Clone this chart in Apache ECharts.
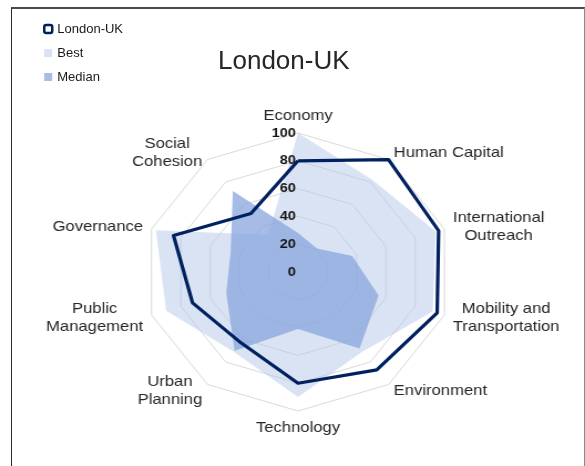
<!DOCTYPE html>
<html>
<head>
<meta charset="utf-8">
<title>London-UK</title>
<script src="https://cdn.jsdelivr.net/npm/echarts@6/dist/echarts.min.js"></script>
<style>
  html, body { margin: 0; padding: 0; background: #fff; }
  #wrap { position: relative; width: 585px; height: 466px; overflow: hidden; }
  #frame {
    position: absolute; left: 11px; top: 7px; width: 574px; height: 520px;
    box-sizing: border-box; border: 1px solid #2b2b2b; border-top: 2px solid #4a4a4a; border-right-color: #8a8a8a;
  }
  /* the radar in the reference is wider than tall, so the radar layer is stretched */
  #radarChart { position: absolute; left: 0; top: 0; width: 528px; height: 466px; transform: scaleX(1.108); transform-origin: 0 0; }
  #headChart { position: absolute; left: 0; top: 0; width: 585px; height: 466px; }
</style>
</head>
<body>
<div id="wrap">
  <div id="frame"></div>
  <div id="headChart"></div>
  <div id="radarChart"></div>
</div>
<script>
const FONT = '"Liberation Sans", Arial, sans-serif';
const SX = 1.108;

// clockwise from the top
const categories = ['Economy', 'Human Capital', 'International\nOutreach', 'Mobility and\nTransportation', 'Environment',
  'Technology', 'Urban\nPlanning', 'Public\nManagement', 'Governance', 'Social\nCohesion'];
const londonValues = [80, 100, 96, 95, 87, 80, 63, 72, 85, 52];
const bestValues = [100, 82, 94, 92, 71, 90, 71, 90, 97, 33];
const medianValues = [28, 21, 37, 55, 68, 41, 70, 49, 46, 72];
const ticks = [0, 20, 40, 60, 80, 100];
const seriesNames = ['London-UK', 'Best', 'Median'];

// echarts lays the indicators out counter-clockwise
const order = categories.map((_, i) => (categories.length - i) % categories.length);
const pick = (arr) => order.map((i) => arr[i]);

const indicator = order.map((i) => ({ name: categories[i], min: ticks[0], max: ticks[ticks.length - 1] }));
// second copy only carries the value labels, drawn above the filled areas
const labelIndicator = indicator.map((d) => ({ name: d.name, min: d.min, max: d.max }));
labelIndicator[0].axisLabel = {
  show: true,
  margin: 2,
  color: '#141414',
  fontSize: 13,
  fontWeight: 'bold',
  fontFamily: FONT,
};

const radarBase = {
  center: [298 / SX, 272],
  radius: 139,
  startAngle: 90,
  shape: 'polygon',
  splitNumber: ticks.length - 1,
};

const radarChart = echarts.init(document.getElementById('radarChart'));
radarChart.setOption({
  animation: false,
  radar: [
    Object.assign({}, radarBase, {
      indicator: indicator,
      nameGap: 8,
      axisName: {
        color: '#262626',
        fontSize: 15,
        fontFamily: FONT,
        formatter: (name) => name.split('\n').map((s) => '{c|' + s + '}').join('\n'),
        rich: {
          c: { align: 'center', color: '#262626', fontSize: 15, fontFamily: FONT, lineHeight: 18 },
        },
      },
      splitLine: { lineStyle: { color: '#d9d9d9', width: 1 } },
      splitArea: { show: false },
      axisLine: { show: false },
      axisTick: { show: false },
      axisLabel: { show: false },
    }),
    Object.assign({}, radarBase, {
      z: 10,
      indicator: labelIndicator,
      axisName: { show: false },
      splitLine: { show: false },
      splitArea: { show: false },
      axisLine: { show: false },
      axisTick: { show: false },
      axisLabel: { show: false },
    }),
  ],
  series: [
    {
      type: 'radar',
      radarIndex: 0,
      symbol: 'none',
      data: [
        {
          name: seriesNames[1],
          value: pick(bestValues),
          lineStyle: { width: 0, opacity: 0 },
          areaStyle: { color: 'rgba(180, 199, 231, 0.5)', opacity: 1 },
        },
        {
          name: seriesNames[2],
          value: pick(medianValues),
          lineStyle: { width: 0, opacity: 0 },
          areaStyle: { color: 'rgba(136, 166, 222, 0.75)', opacity: 1 },
        },
        {
          name: seriesNames[0],
          value: pick(londonValues),
          lineStyle: { color: '#002060', width: 3.2 },
          itemStyle: { color: '#002060' },
        },
      ],
    },
  ],
});

// title and legend drawn without the stretch
const headChart = echarts.init(document.getElementById('headChart'));
headChart.setOption({
  animation: false,
  title: {
    text: 'London-UK',
    left: 218,
    top: 49,
    padding: 0,
    textStyle: { fontSize: 26, fontWeight: 'normal', color: '#262626', fontFamily: FONT },
  },
  legend: {
    orient: 'vertical',
    left: 43,
    top: 22,
    padding: 0,
    itemWidth: 8,
    itemHeight: 8,
    itemGap: 10,
    textStyle: { fontSize: 13, color: '#1a1a1a', fontFamily: FONT, lineHeight: 14 },
    data: [
      { name: seriesNames[0], icon: 'roundRect', itemStyle: { color: '#ffffff', borderColor: '#002060', borderWidth: 2.5 } },
      { name: seriesNames[1], icon: 'rect', itemStyle: { color: '#dbe2f3', borderWidth: 0 } },
      { name: seriesNames[2], icon: 'rect', itemStyle: { color: '#a9bce6', borderWidth: 0 } },
    ],
  },
  radar: {
    center: [298, 272],
    radius: 139,
    indicator: indicator.map((d) => ({ name: d.name, min: d.min, max: d.max })),
    axisName: { show: false },
    splitLine: { show: false },
    splitArea: { show: false },
    axisLine: { show: false },
  },
  series: [
    {
      type: 'radar',
      symbol: 'none',
      silent: true,
      lineStyle: { opacity: 0 },
      data: seriesNames.map((n) => ({ name: n, value: indicator.map(() => 0) })),
    },
  ],
});

echarts.connect([radarChart, headChart]);
</script>
</body>
</html>
